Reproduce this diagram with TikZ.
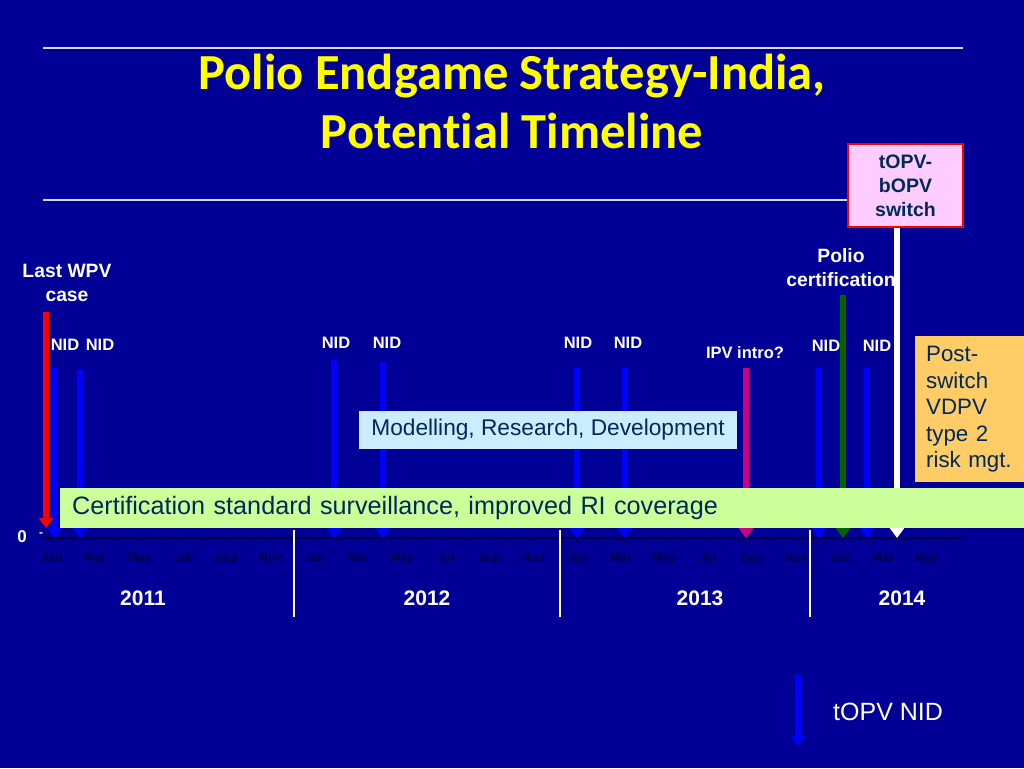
\documentclass[tikz,border=0pt]{standalone}
\usepackage{fontspec}
\setmainfont{Liberation Sans}
\newfontfamily\titlefont[Ligatures=NoCommon]{Carlito}
\usetikzlibrary{arrows.meta}
\definecolor{bg}{RGB}{0,0,150}
\definecolor{nidblue}{RGB}{0,0,255}
\definecolor{ipvpink}{RGB}{204,0,128}
\definecolor{certgreen}{RGB}{0,100,0}
\definecolor{boxtext}{RGB}{0,40,90}
\definecolor{monthcol}{RGB}{0,0,70}
\definecolor{pinkfill}{RGB}{255,204,255}
\definecolor{lblue}{RGB}{204,236,255}
\definecolor{lgreen}{RGB}{204,255,153}
\definecolor{orangefill}{RGB}{255,204,102}
\definecolor{titleyellow}{RGB}{255,255,0}
\begin{document}
\begin{tikzpicture}[x=1pt,y=-1pt,
  arr/.style={line width=5.5pt,-{Triangle[width=14pt,length=10pt]}},
  lbl/.style={text=white,font=\bfseries\fontsize{16.5}{20}\selectfont,inner sep=0pt},
  biglbl/.style={text=white,align=center,font=\bfseries\fontsize{19.3}{24}\selectfont,inner sep=0pt},
  monthlbl/.style={text=monthcol,anchor=base,font=\bfseries\fontsize{12}{14}\selectfont,inner sep=0pt},
  yearlbl/.style={text=white,font=\bfseries\fontsize{21}{24}\selectfont,inner sep=0pt},
  titlelbl/.style={anchor=base,text=titleyellow,font=\titlefont\bfseries\fontsize{50.5}{54}\selectfont,inner sep=0pt},
  rule/.style={white!85!blue,line width=1.5pt},
  sep/.style={white,line width=1.2pt}]
\fill[bg] (0,0) rectangle (1024,768);
\useasboundingbox (0,0) rectangle (1024,768);

% title
\coordinate (r1a) at (43,48); \coordinate (r1b) at (963,48);
\coordinate (r2a) at (43,200); \coordinate (r2b) at (850,200);
\draw[rule] (r1a) -- (r1b);
\draw[rule] (r2a) -- (r2b);
\node[titlelbl] (t1) at (512,89) {Polio Endgame Strategy-India,};
\node[titlelbl] (t2) at (512,148) {Potential Timeline};

% axis
\coordinate (ax0) at (42,538); \coordinate (ax1) at (963,538);
\draw[monthcol,line width=1.5pt] (ax0) -- (ax1);
\foreach \m in {0,...,41}{
  \coordinate (tk\m) at ({52+21.87*\m},538);
  \draw[monthcol,line width=1pt] (tk\m) -- ++(0,4);
}
\foreach \m/\t in {0/Jan,2/Mar,4/May,6/Jul,8/Sep,10/Nov,12/Jan,14/Mar,16/May,18/Jul,20/Sep,22/Nov,24/Jan,26/Mar,28/May,30/Jul,32/Sep,34/Nov,36/Jan,38/Mar,40/May}{
  \node[monthlbl] (ml\m) at ({52+21.87*\m},561) {\t};
}
\node[text=white,font=\bfseries\fontsize{17}{20}\selectfont,inner sep=0pt] (zero) at (22,537) {0};
\node[text=white,font=\bfseries\fontsize{12}{14}\selectfont,inner sep=0pt] (dash) at (41,535) {-};

% year separators
\foreach \x/\n in {294/a,560/b,810/c}{
  \coordinate (s\n1) at (\x,530); \coordinate (s\n2) at (\x,617);
  \draw[sep] (s\n1) -- (s\n2);
}
\node[yearlbl] (y11) at (143,598) {2011};
\node[yearlbl] (y12) at (427,598) {2012};
\node[yearlbl] (y13) at (700,598) {2013};
\node[yearlbl] (y14) at (902,598) {2014};

% labels
\node[biglbl] (wpv) at (67,283) {Last WPV\\case};
\node[biglbl] (pcert) at (841,268) {Polio\\certification};
\foreach \x/\y/\n in {65/345/a,100/345/b,336/343/c,387/343/d,578/343/e,628/343/f,826/346/g,877/346/h}{
  \node[lbl] (nid\n) at (\x,\y) {NID};
}
\node[lbl] (ipv) at (745,353) {IPV intro?};

% arrows
\foreach \x/\y/\n in {55/368/a,80/370/b,334/360/c,383/362/d,577/368/e,625/368/f,819/368/g,867/368/h}{
  \coordinate (nt\n) at (\x,\y); \coordinate (nb\n) at (\x,538);
  \draw[arr,nidblue] (nt\n) -- (nb\n);
}
\coordinate (redt) at (46,312); \coordinate (redb) at (46,528);
\draw[arr,red] (redt) -- (redb);
\coordinate (ipvt) at (746,368); \coordinate (ipvb) at (746,538);
\draw[arr,ipvpink] (ipvt) -- (ipvb);
\coordinate (grt) at (843,295); \coordinate (grb) at (843,538);
\draw[arr,certgreen] (grt) -- (grb);

% switch box and white arrow
\node[draw=red,line width=1.3pt,fill=pinkfill,minimum width=115,minimum height=83,inner sep=0pt,align=center,text=boxtext,font=\bfseries\fontsize{19.5}{24}\selectfont] (switch) at (905.5,185.5) {tOPV-\\bOPV\\switch};
\coordinate (wb) at (897,538);
\draw[arr,white] (switch.south -| wb) -- (wb);

% boxes
\node[fill=lblue,minimum width=378,minimum height=38,inner sep=0pt,text=boxtext,font=\fontsize{22.7}{25}\selectfont] (model) at (548,430) {Modelling, Research, Development};
\node[fill=lgreen,anchor=west,text width=940,inner xsep=12,inner ysep=0pt,minimum height=40,align=left,text=boxtext,font=\fontsize{25.2}{28}\selectfont] (cert) at (60,508) {Certification standard surveillance, improved RI coverage};
\node[fill=orangefill,anchor=north west,text width=87,inner xsep=11,inner ysep=0pt,minimum height=146,align=left,text=boxtext,font=\fontsize{22.3}{26.5}\selectfont] (post) at (915,336) {Post-\\switch\\VDPV\\type 2\\risk mgt.};

% legend
\coordinate (lgt) at (798,675); \coordinate (lgb) at (798,746);
\draw[arr,nidblue] (lgt) -- (lgb);
\node[anchor=west,text=white,font=\fontsize{25}{28}\selectfont,inner sep=0pt] (lgl) at (833,712) {tOPV NID};
\end{tikzpicture}
\end{document}
